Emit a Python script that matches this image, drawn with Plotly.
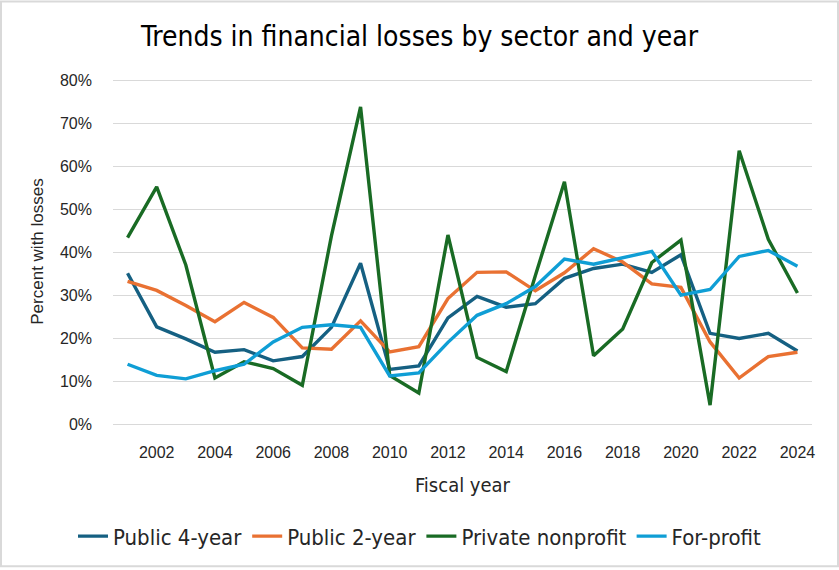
import plotly.graph_objects as go

years = list(range(2001, 2025))
public4 = [35.1, 22.6, 19.8, 16.7, 17.3, 14.7, 15.7, 22.5, 37.4, 12.7, 13.5, 24.7, 29.7, 27.2, 28.0, 33.9, 36.2, 37.2, 35.3, 39.4, 21.1, 19.9, 21.1, 17.0]
public2 = [33.2, 31.1, 27.6, 23.8, 28.3, 24.8, 17.7, 17.4, 24.0, 16.8, 18.0, 29.2, 35.3, 35.4, 31.0, 35.2, 40.8, 37.7, 32.6, 31.8, 19.1, 10.7, 15.7, 16.7]
private_np = [43.4, 55.2, 37.0, 10.7, 14.5, 12.9, 9.0, 43.8, 73.8, 11.3, 7.2, 44.0, 15.5, 12.2, 34.5, 56.4, 15.9, 22.1, 37.6, 42.8, 4.4, 63.6, 43.0, 30.5]
forprofit = [13.9, 11.3, 10.5, 12.4, 13.9, 19.1, 22.5, 23.1, 22.5, 11.2, 11.9, 19.0, 25.3, 28.0, 32.0, 38.4, 37.2, 38.6, 40.2, 30.0, 31.3, 39.0, 40.4, 36.7]

series = [
    ("Public 4-year", public4, "#156082"),
    ("Public 2-year", public2, "#E97132"),
    ("Private nonprofit", private_np, "#196B24"),
    ("For-profit", forprofit, "#0F9ED5"),
]
ytickvals = [0, 10, 20, 30, 40, 50, 60, 70, 80]
yticktext = [f"{v}%" for v in ytickvals]
xtickvals = list(range(2002, 2025, 2))

fig = go.Figure()
for name, vals, color in series:
    fig.add_trace(go.Scatter(x=years, y=vals, mode="lines", name=name,
                             line=dict(color=color, width=3.4)))

NARROW = "DejaVu Sans Condensed"
W, H = 839, 570
L, R, T, B = 113, 27, 79, 144
pw = W - L - R
ph = H - T - B
fig.update_layout(
    width=W, height=H,
    margin=dict(l=L, r=R, t=T, b=B),
    paper_bgcolor="white", plot_bgcolor="white",
    font=dict(family="Liberation Sans", size=16, color="#262626"),
    title=dict(text="Trends in financial losses by sector and year",
               x=0.5, xref="container", xanchor="center", y=1 - 36 / H, yanchor="middle",
               font=dict(family=NARROW, size=28, color="#000000")),
    xaxis=dict(range=[2000.5, 2024.5], tickvals=xtickvals, showgrid=False,
               showline=True, linecolor="#d9d9d9", linewidth=1, zeroline=False,
               ticks="", ticklabelstandoff=14,
               title=dict(text="Fiscal year", standoff=17,
                          font=dict(family=NARROW, size=20))),
    yaxis=dict(range=[0, 80.3], tickvals=ytickvals, ticktext=yticktext,
               showgrid=True, gridcolor="#d9d9d9", gridwidth=1, zeroline=False,
               ticks="", ticklabelstandoff=20,
               title=dict(text="Percent with losses", standoff=12, font=dict(size=17))),
    legend=dict(orientation="h", x=(W / 2 - L) / pw, xanchor="center",
                y=-(539 - 426) / ph, yanchor="middle",
                font=dict(family=NARROW, size=22),
                tracegroupgap=0),
    shapes=[dict(type="rect", xref="paper", yref="paper",
                 x0=-(L - 1) / pw, x1=1 + (R - 1) / pw, y0=-(B - 1) / ph, y1=1 + (T - 1) / ph,
                 line=dict(color="#d9d9d9", width=2), fillcolor="rgba(0,0,0,0)")],
)
fig.write_html("out.html", config={"displayModeBar": False},
               post_script="document.body.style.margin='0';")
